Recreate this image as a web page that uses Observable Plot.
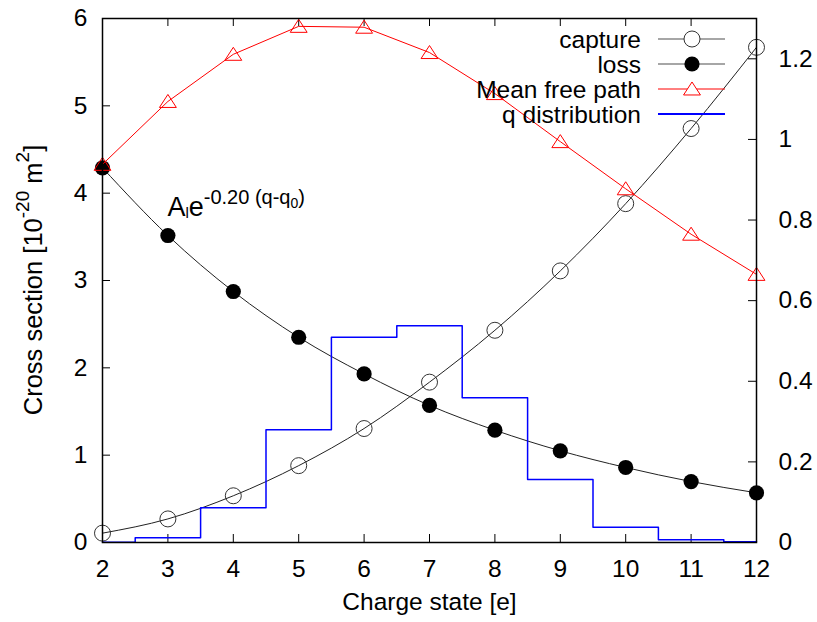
<!DOCTYPE html>
<html>
<head>
<meta charset="utf-8">
<script src="https://cdn.jsdelivr.net/npm/d3@7"></script>
<script src="https://cdn.jsdelivr.net/npm/@observablehq/plot@0.6"></script>
<style>
  body { margin: 0; background: #fff; }
  svg { font-family: "Liberation Sans", Arial, sans-serif; }
</style>
</head>
<body>
<div id="chart"></div>
<script>
// ---- data ----
const charge = [2, 3, 4, 5, 6, 7, 8, 9, 10, 11, 12];
const capture = [0.107, 0.27, 0.535, 0.88, 1.305, 1.836, 2.43, 3.11, 3.88, 4.74, 5.67];
const loss = [4.29, 3.515, 2.874, 2.35, 1.93, 1.57, 1.286, 1.05, 0.859, 0.698, 0.569];
const meanFreePath = [4.33, 5.05, 5.59, 5.91, 5.90, 5.61, 5.14, 4.59, 4.05, 3.53, 3.07];
const qDistribution = [0.0005, 0.012, 0.086, 0.280, 0.509, 0.538, 0.359, 0.156, 0.038, 0.007, 0.002];
const xTicks = [2, 3, 4, 5, 6, 7, 8, 9, 10, 11, 12];
const yTicks = [0, 1, 2, 3, 4, 5, 6];
const y2Ticks = [0, 0.2, 0.4, 0.6, 0.8, 1.0, 1.2];
const yDomain = [0, 6];
const y2Domain = [0, 1.3];
const seriesNames = ["capture", "loss", "Mean free path", "q distribution"];
const xLabel = "Charge state [e]";
const annotQ = [3.0];
const annotV = [3.73];

// ---- layout ----
const W = 817, H = 622, mL = 102, mR = 61, mT = 18, mB = 80;
const iw = W - mL - mR, ih = H - mT - mB;
const tickLen = 8;
const k = yDomain[1] / y2Domain[1];
const FS = 24.5;
const fmt = d => String(+d.toFixed(1));

const rows = charge.map((q, i) => ({
  q, capture: capture[i], loss: loss[i], mfp: meanFreePath[i], qd: qDistribution[i] * k
}));

// flattened triangle similar to gnuplot's point type
const flatTriangle = {
  draw(ctx, size) {
    const r = Math.sqrt(size / Math.PI);
    ctx.moveTo(0, -1.08 * r);
    ctx.lineTo(1.3 * r, 0.92 * r);
    ctx.lineTo(-1.3 * r, 0.92 * r);
    ctx.closePath();
  }
};

const plot = Plot.plot({
  width: W, height: H,
  marginLeft: mL, marginRight: mR, marginTop: mT, marginBottom: mB,
  style: {fontFamily: "Liberation Sans, Arial, sans-serif", fontSize: FS + "px", color: "black", background: "white", overflow: "visible"},
  x: {domain: [2, 12]},
  y: {domain: yDomain},
  marks: [
    Plot.axisX({ticks: xTicks, tickSize: 0, tickPadding: 17, fontSize: FS, tickFormat: fmt, label: null}),
    Plot.axisY({ticks: yTicks, tickSize: 0, tickPadding: 15, fontSize: FS, tickFormat: fmt, label: null}),
    Plot.axisY(y2Ticks, {anchor: "right", y: d => d * k, tickSize: 0, tickPadding: 22, fontSize: FS,
      tickFormat: fmt, label: null}),
    Plot.tickX(xTicks, {x: d => d, insetTop: ih - tickLen, stroke: "black"}),
    Plot.tickX(xTicks, {x: d => d, insetBottom: ih - tickLen, stroke: "black"}),
    Plot.tickY(yTicks, {y: d => d, insetRight: iw - tickLen, stroke: "black"}),
    Plot.tickY(y2Ticks, {y: d => d * k, insetLeft: iw - tickLen, stroke: "black"}),
    // capture
    Plot.line(rows, {x: "q", y: "capture", curve: "monotone-x", stroke: "#222", strokeWidth: 1}),
    Plot.dot(rows, {x: "q", y: "capture", r: 8, stroke: "#333", fill: "none", strokeWidth: 1}),
    // loss
    Plot.line(rows, {x: "q", y: "loss", curve: "monotone-x", stroke: "#222", strokeWidth: 1}),
    Plot.dot(rows, {x: "q", y: "loss", r: 7.6, fill: "black", stroke: "none"}),
    // mean free path
    Plot.line(rows, {x: "q", y: "mfp", stroke: "#ff0000", strokeWidth: 1}),
    Plot.dot(rows, {x: "q", y: "mfp", r: 6.5, symbol: flatTriangle, stroke: "#ff0000", fill: "none", strokeWidth: 1}),
    // q distribution
    Plot.line(rows, {x: "q", y: "qd", curve: "step", stroke: "#0000ff", strokeWidth: 1.5}),
    Plot.frame({stroke: "black", strokeWidth: 1.5}),
    Plot.text([xLabel], {frameAnchor: "bottom", dy: 67, text: d => d, fontSize: 24.5, fill: "black"})
  ]
});

document.getElementById("chart").appendChild(plot);

// ---- rich text and legend using the plot's own scales ----
const svg = d3.select(plot);
const xs = plot.scale("x"), ys = plot.scale("y");
const X = d3.scaleLinear(xs.domain, xs.range);
const Y = d3.scaleLinear(ys.domain, ys.range);

// y label with superscripts
const yl = svg.append("text")
  .attr("transform", `translate(${mL - 60},${(Y(yDomain[0]) + Y(yDomain[1])) / 2}) rotate(-90)`)
  .attr("text-anchor", "middle").attr("font-size", 25.5).attr("fill", "black");
yl.append("tspan").text("Cross section [10");
yl.append("tspan").attr("font-size", 19).attr("dy", -13).text("-20");
yl.append("tspan").attr("dy", 13).text(" m");
yl.append("tspan").attr("font-size", 19).attr("dy", -13).text("2");
yl.append("tspan").attr("dy", 13).text("]");

// fit annotation
const at = svg.append("text")
  .attr("x", X(annotQ[0])).attr("y", Y(annotV[0]))
  .attr("text-anchor", "start")
  .attr("font-size", 27).attr("fill", "black");
at.append("tspan").text("A");
at.append("tspan").attr("font-size", 15).attr("dy", 2).text("l");
at.append("tspan").attr("dy", -2).text("e");
at.append("tspan").attr("font-size", 20).attr("dy", -12).text("-0.20 (q-q");
at.append("tspan").attr("font-size", 14).attr("dy", 4).text("0");
at.append("tspan").attr("font-size", 20).attr("dy", -4).text(")");

// legend
const frameRight = X.range()[1];
const frameTop = Y.range()[1];
const lg = svg.append("g");
const legendStyles = [
  {line: "#888", sw: 1.5, marker: "circleOpen"},
  {line: "#888", sw: 1.5, marker: "circleFilled"},
  {line: "#ff0000", sw: 1, marker: "triangle"},
  {line: "#0000ff", sw: 2, marker: null}
];
seriesNames.forEach((name, i) => {
  const cy = frameTop + 21 + i * 25;
  const st = legendStyles[i];
  lg.append("text").attr("x", frameRight - 115).attr("y", cy).attr("dy", "0.35em")
    .attr("text-anchor", "end").attr("font-size", 24.5).attr("fill", "black").text(name);
  lg.append("line").attr("x1", frameRight - 98).attr("x2", frameRight - 31).attr("y1", cy).attr("y2", cy)
    .attr("stroke", st.line).attr("stroke-width", st.sw);
  const mx = frameRight - 64;
  if (st.marker === "circleOpen") {
    lg.append("circle").attr("cx", mx).attr("cy", cy).attr("r", 8).attr("fill", "white").attr("stroke", "#333");
  } else if (st.marker === "circleFilled") {
    lg.append("circle").attr("cx", mx).attr("cy", cy).attr("r", 7.6).attr("fill", "black");
  } else if (st.marker === "triangle") {
    lg.append("path").attr("transform", `translate(${mx},${cy})`)
      .attr("d", d3.symbol(flatTriangle, Math.PI * 6.5 * 6.5)())
      .attr("fill", "white").attr("stroke", "#ff0000");
  }
});
</script>
</body>
</html>
